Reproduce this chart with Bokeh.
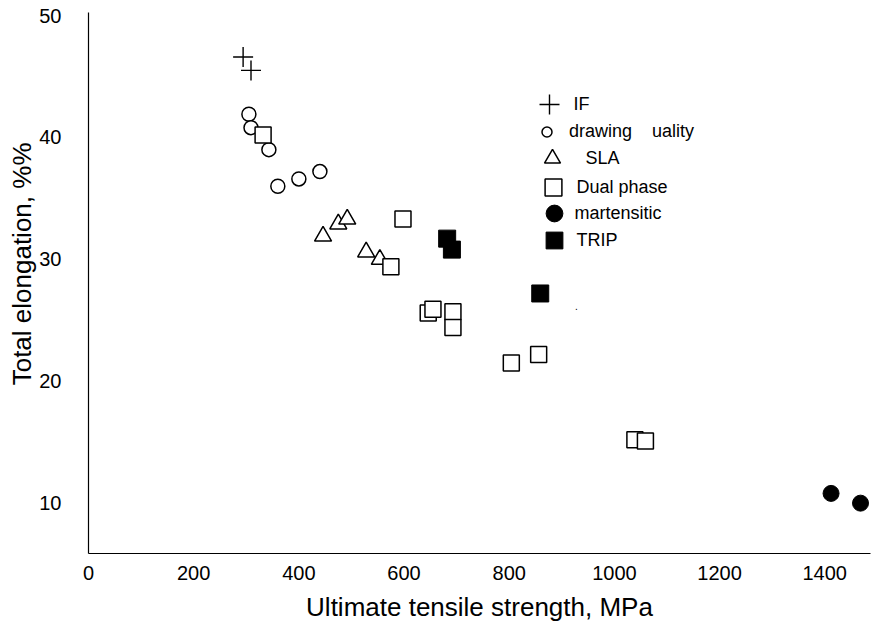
from bokeh.plotting import figure
from bokeh.models import Legend, LegendItem, FixedTicker, Label, Range1d, Title
from bokeh.embed import file_html
from bokeh.resources import INLINE

# ---- data ----
if_uts = [294, 309]
if_el = [46.6, 45.5]

dq_uts = [305, 309, 343, 360, 400, 440]
dq_el = [41.9, 40.8, 39.0, 36.0, 36.6, 37.2]

sla_uts = [446, 475, 492, 528, 554]
sla_el = [31.9, 32.9, 33.3, 30.6, 30.0]

dp_uts = [332, 598, 575, 646, 655, 693, 693, 804, 856, 1039, 1059]
dp_el = [40.2, 33.3, 29.4, 25.6, 25.9, 25.7, 24.4, 21.5, 22.2, 15.2, 15.1]

mart_uts = [1412, 1468]
mart_el = [10.8, 10.0]

trip_uts = [682, 691, 859]
trip_el = [31.7, 30.8, 27.2]

x_ticks = [0, 200, 400, 600, 800, 1000, 1200, 1400]
y_ticks = [10, 20, 30, 40, 50]

series_labels = ["IF", "drawing    uality", "SLA", "Dual phase", "martensitic", "TRIP"]

FONT = "Liberation Sans"

p = figure(frame_width=782, frame_height=541,
           x_range=Range1d(0, 1487), y_range=Range1d(5.87, 50.25),
           output_backend="svg", toolbar_location=None,
           min_border_left=88, min_border_top=12, min_border_right=15,
           min_border_bottom=74)
p.outline_line_color = None
p.grid.visible = False

for ax in (p.xaxis[0], p.yaxis[0]):
    ax.major_tick_line_color = None
    ax.minor_tick_line_color = None
    ax.major_tick_out = 0
    ax.major_tick_in = 0
    ax.minor_tick_out = 0
    ax.axis_line_color = "black"
    ax.axis_line_width = 1.2
    ax.major_label_text_font = FONT
    ax.major_label_text_font_size = "20px"
    ax.major_label_text_color = "black"
    ax.axis_label_text_font = FONT
    ax.axis_label_text_font_size = "26px"
    ax.axis_label_text_font_style = "normal"
    ax.axis_label_text_color = "black"

p.xaxis.ticker = FixedTicker(ticks=x_ticks)
p.yaxis.ticker = FixedTicker(ticks=y_ticks)
p.xaxis.major_label_standoff = 12
p.yaxis.major_label_standoff = 27
p.xaxis.axis_label = "Ultimate tensile strength, MPa"
p.xaxis.axis_label_standoff = 9

# y-axis title as a left-side title, its top end placed as in the reference
p.add_layout(Title(text="Total elongation, %%", align="right", offset=130,
                   text_font=FONT, text_font_size="26px", text_font_style="normal",
                   text_color="black", standoff=0), "left")

r_if = p.scatter(if_uts, if_el, marker="cross", size=20, line_color="black", line_width=1.4)
r_dq = p.scatter(dq_uts, dq_el, marker="circle", size=14, line_color="black",
                 fill_color="white", line_width=1.5)
r_sla = p.scatter(sla_uts, sla_el, marker="triangle", size=17, line_color="black",
                  fill_color="white", line_width=1.5)
r_dp = p.scatter(dp_uts, dp_el, marker="square", size=16, line_color="black",
                 fill_color="white", line_width=1.5)
r_m = p.scatter(mart_uts, mart_el, marker="circle", size=16, line_color="black",
                fill_color="black", line_width=1)
r_trip = p.scatter(trip_uts, trip_el, marker="square", size=17, line_color="black",
                   fill_color="black", line_width=1)

FRAME_LEFT = 88.5
FRAME_BOTTOM = 553


def add_leg(label, r, cx, cy, size, label_x):
    box = int(round(size * 2.5))
    leg = Legend(items=[LegendItem(label=label, renderers=[r])],
                 location=(cx - box / 2 - FRAME_LEFT, FRAME_BOTTOM - (cy + box / 2)),
                 glyph_width=box, glyph_height=box,
                 label_standoff=max(0, int(round(label_x - (cx + box / 2)))),
                 padding=0, margin=0, spacing=0,
                 border_line_color=None, background_fill_alpha=0,
                 label_text_font=FONT, label_text_font_size="18px",
                 label_text_color="black")
    p.add_layout(leg)


add_leg(series_labels[0], r_if, 549, 104, 20, 573)
add_leg(series_labels[1], r_dq, 547, 131, 10, 570)
add_leg(series_labels[2], r_sla, 552, 158, 16, 586)
add_leg(series_labels[3], r_dp, 553, 187, 17, 577)
add_leg(series_labels[4], r_m, 554, 213, 17, 575)
add_leg(series_labels[5], r_trip, 554, 240, 17, 577)

p.add_layout(Label(x=575 - FRAME_LEFT, y=FRAME_BOTTOM - 305, x_units="screen", y_units="screen",
                   text=".", text_font=FONT, text_font_size="10px", text_color="black",
                   text_baseline="alphabetic"))

open("out.html", "w").write(file_html(p, INLINE))
